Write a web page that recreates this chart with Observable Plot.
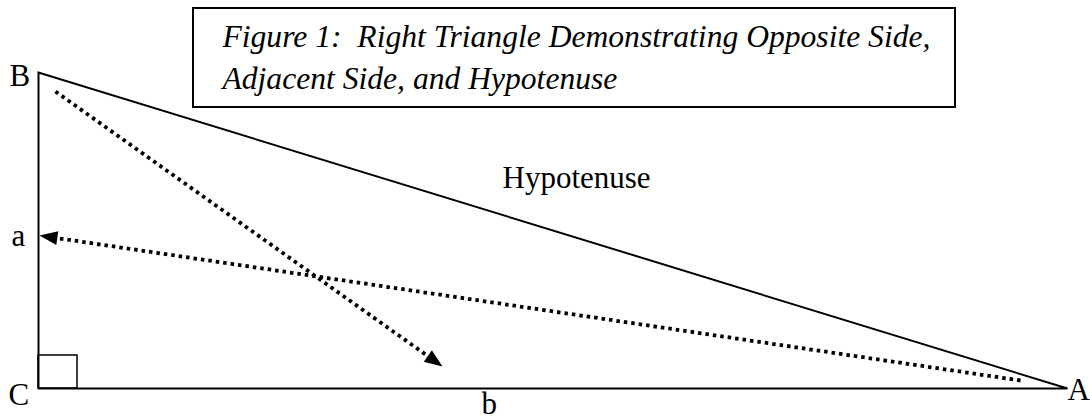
<!DOCTYPE html>
<html>
<head>
<meta charset="utf-8">
<script src="https://cdn.jsdelivr.net/npm/d3@7"></script>
<script src="https://cdn.jsdelivr.net/npm/@observablehq/plot@0.6"></script>
<style>
  html, body { margin: 0; padding: 0; background: #fff; }
  #chart svg { display: block; }
</style>
</head>
<body>
<div id="chart"></div>
<script>
// Triangle vertices (figure coordinates, y grows downward)
const vertices = [
  {name: "B", x: 38, y: 72},
  {name: "C", x: 38, y: 388},
  {name: "A", x: 1067, y: 388}
];
// Right-angle marker at C
const rightAngle = [{x1: 38, x2: 77, y1: 355, y2: 388}];
// Dotted arrows: start and tip
const arrows = [
  {x1: 55, y1: 91, x2: 442, y2: 366},
  {x1: 1020, y1: 380, x2: 39, y2: 235}
];
// Labels (baseline positions)
const labels = [
  {text: "B", x: 9, y: 85},
  {text: "a", x: 11, y: 245},
  {text: "C", x: 8, y: 404},
  {text: "b", x: 481, y: 413},
  {text: "A", x: 1067, y: 399},
  {text: "Hypotenuse", x: 502, y: 187}
];
// Title box and lines
const titleBox = [{x1: 193, x2: 955, y1: 8, y2: 107}];
const titleLines = [
  {text: "Figure 1:  Right Triangle Demonstrating Opposite Side,", x: 222, y: 46},
  {text: "Adjacent Side, and Hypotenuse", x: 222, y: 88}
];

const headLen = 18, headHalf = 7;
const path = [...vertices, vertices[0]];
const arrowData = arrows.map(d => {
  const dx = d.x2 - d.x1, dy = d.y2 - d.y1, L = Math.hypot(dx, dy);
  return {
    ...d,
    bx: d.x2 - dx / L * (headLen - 2),
    by: d.y2 - dy / L * (headLen - 2),
    rotate: Math.atan2(dx, -dy) * 180 / Math.PI
  };
});
const headShape = {
  draw(context, l) {
    context.moveTo(0, -l);
    context.lineTo(-headHalf, 0);
    context.lineTo(headHalf, 0);
    context.closePath();
  }
};
const font = "'Liberation Serif', 'Times New Roman', serif";

const chart = Plot.plot({
  width: 1090,
  height: 420,
  margin: 0,
  style: {background: "#fff", fontFamily: font},
  x: {domain: [0, 1090], range: [0, 1090], axis: null},
  y: {domain: [0, 420], range: [0, 420], axis: null},
  marks: [
    Plot.line(path, {x: "x", y: "y", stroke: "#000", strokeWidth: 2, strokeLinejoin: "miter", strokeLinecap: "square"}),
    Plot.rect(rightAngle, {x1: "x1", x2: "x2", y1: "y1", y2: "y2", fill: "none", stroke: "#000", strokeWidth: 1.5}),
    Plot.link(arrowData, {x1: "x1", y1: "y1", x2: "bx", y2: "by", stroke: "#000", strokeWidth: 3.8, strokeDasharray: "3.5,4"}),
    Plot.vector(arrowData, {x: "x2", y: "y2", rotate: "rotate", length: headLen, anchor: "end", shape: headShape, fill: "#000", stroke: "none"}),
    Plot.rect(titleBox, {x1: "x1", x2: "x2", y1: "y1", y2: "y2", fill: "#fff", stroke: "#000", strokeWidth: 2}),
    Plot.text(titleLines, {x: "x", y: "y", text: "text", textAnchor: "start", lineAnchor: "bottom", fontSize: 31.6, fontStyle: "italic", fontFamily: font, fill: "#000"}),
    Plot.text(labels, {x: "x", y: "y", text: "text", textAnchor: "start", lineAnchor: "bottom", fontSize: 31, fontFamily: font, fill: "#000"})
  ]
});
document.getElementById("chart").appendChild(chart);
</script>
</body>
</html>
